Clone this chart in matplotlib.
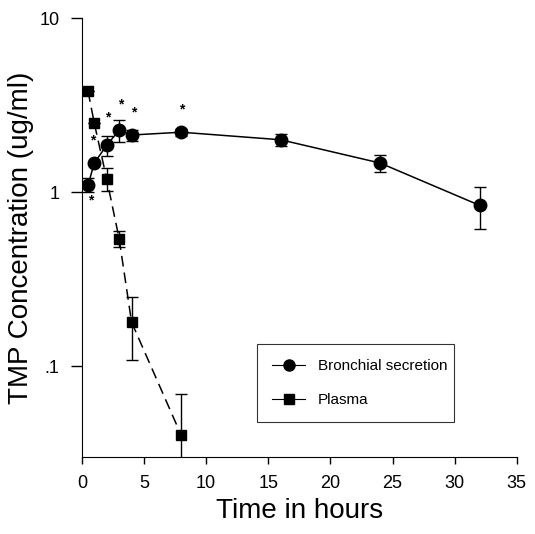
import matplotlib
matplotlib.use('Agg')
import matplotlib.pyplot as plt
from matplotlib.lines import Line2D
import numpy as np

plt.rcParams['font.family'] = ['Liberation Sans', 'DejaVu Sans']

# bronchial secretion
bs_time = [0.5, 1, 2, 3, 4, 8, 16, 24, 32]
bs_conc = [1.1, 1.47, 1.86, 2.27, 2.13, 2.21, 2.0, 1.47, 0.84]
bs_err = [0.1, 0.0, 0.25, 0.32, 0.15, 0.1, 0.15, 0.17, 0.23]

# plasma
pl_time = [0.5, 1, 2, 3, 4, 8]
pl_conc = [3.8, 2.49, 1.19, 0.54, 0.179, 0.040]
pl_err = [0.0, 0.0, 0.18, 0.057, 0.07, 0.029]

# significance stars
star_x = [0.7, 0.9, 2.1, 3.1, 4.2, 8.0]
star_y = [0.89, 1.99, 2.7, 3.2, 2.88, 3.0]

xticks = [0, 5, 10, 15, 20, 25, 30, 35]
yticks = [0.1, 1, 10]
ylabels = ['.1', '1', '10']

fig = plt.figure(figsize=(5.35, 5.34), dpi=100)
ax = fig.add_axes([0.153, 0.144, 0.813, 0.822])

ax.errorbar(bs_time, bs_conc, yerr=bs_err, fmt='-o', color='k', ms=9, lw=1.1,
            capsize=4, elinewidth=1, capthick=1, zorder=3)
ax.errorbar(pl_time, pl_conc, yerr=pl_err, fmt='--s', color='k', ms=7.5, lw=1.1,
            dashes=(7, 4), capsize=4, elinewidth=1, capthick=1, zorder=3)

for sx, sy in zip(star_x, star_y):
    ax.text(sx, sy, '*', ha='center', va='center', fontsize=10, fontweight='bold')

ax.set_yscale('log')
ax.set_xlim(0, 35)
ax.set_ylim(0.03, 10)
ax.set_xticks(xticks)
ax.set_xticklabels([str(t) for t in xticks])
ax.set_yticks(yticks)
ax.set_yticklabels(ylabels)
ax.yaxis.set_minor_locator(matplotlib.ticker.NullLocator())
ax.tick_params(axis='both', labelsize=13, width=1, direction='out')
ax.tick_params(axis='y', length=8, pad=8)
ax.tick_params(axis='x', length=5, pad=8)

ax.spines['top'].set_visible(False)
ax.spines['right'].set_visible(False)

ax.set_xlabel('Time in hours', fontsize=20, labelpad=4)
ax.set_ylabel('TMP Concentration (ug/ml)', fontsize=20, labelpad=4)

handles = [Line2D([], [], color='k', lw=0.8, marker='o', ms=8),
           Line2D([], [], color='k', lw=0.8, marker='s', ms=7)]
leg = ax.legend(handles, ['Bronchial secretion', 'Plasma'], loc='lower left',
                bbox_to_anchor=(0.384, 0.062, 0.49, 0.17), mode='expand',
                fontsize=11, frameon=True, fancybox=False, edgecolor='k',
                handlelength=2.2, borderpad=1.0, labelspacing=1.3)
leg.get_frame().set_linewidth(0.8)

plt.savefig('out.png', dpi=100)
